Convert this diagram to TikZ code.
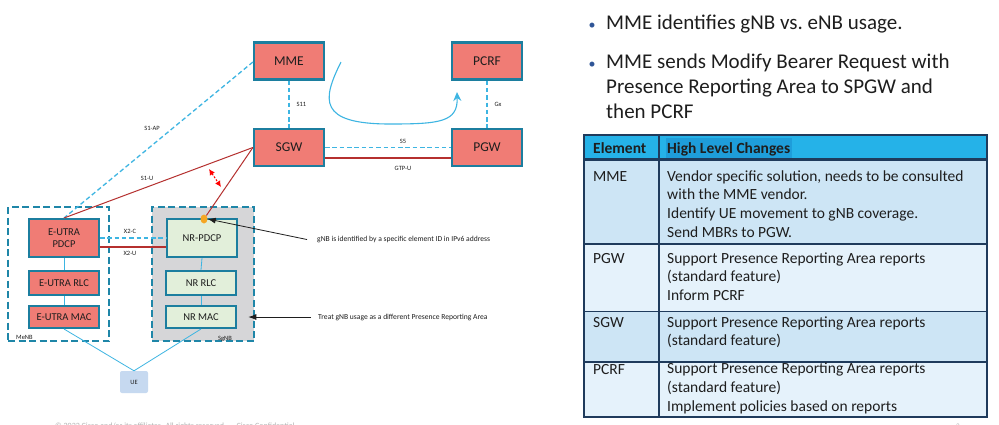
\documentclass[tikz,border=0pt]{standalone}
\usepackage{fontspec}
\setmainfont{Carlito}
\usetikzlibrary{arrows.meta,calc,shapes.geometric}
\definecolor{salmon}{HTML}{F07C75}
\definecolor{tealb}{HTML}{1C7E9F}
\definecolor{dteal}{HTML}{1F86A8}
\definecolor{lblue}{HTML}{3DB5E2}
\definecolor{ured}{HTML}{B5302F}
\definecolor{sgray}{HTML}{D6D6D8}
\definecolor{lgreen}{HTML}{E2EFDA}
\definecolor{uefill}{HTML}{C6D9F0}
\definecolor{dorange}{HTML}{F5A623}
\definecolor{navy}{HTML}{1F3B5C}
\definecolor{hdr}{HTML}{25B2E8}
\definecolor{hdrhl}{HTML}{1E9DDA}
\definecolor{rowa}{HTML}{CDE5F5}
\definecolor{rowb}{HTML}{E5F2FB}
\definecolor{bulc}{HTML}{2F5597}
\definecolor{txt}{HTML}{1E1E1E}
\begin{document}
\begin{tikzpicture}[x=1pt,y=-1pt,
  netbox/.style={draw=tealb, line width=2.2pt, fill=salmon, minimum width=70pt, minimum height=37pt, inner sep=0pt, text=txt, font=\fontsize{13.5}{14}\selectfont},
  grpbox/.style={draw=dteal, line width=2.6pt, dash pattern=on 7pt off 3.5pt, inner sep=0pt},
  layerbox/.style={draw=tealb, line width=2pt, minimum width=70pt, inner sep=0pt, text=txt, align=center, font=\fontsize{10.5}{12}\selectfont},
  ctrl/.style={draw=lblue, line width=1.3pt, dash pattern=on 4.5pt off 2.8pt},
  uplane/.style={draw=ured, line width=1.1pt},
  thinlink/.style={draw=lblue, line width=0.8pt},
  lbl/.style={font=\fontsize{6.5}{7}\selectfont, inner sep=0pt, text=txt},
  note/.style={font=\fontsize{7.6}{9}\selectfont, inner sep=0pt, text=txt, anchor=base west},
  notearrow/.style={draw=txt, line width=0.8pt, -{Latex[length=8pt,width=6pt]}},
  bul/.style={font=\fontsize{21}{25}\selectfont, inner sep=0pt, text=txt, anchor=base west, align=left},
  bdot/.style={font=\fontsize{14}{14}\selectfont, inner sep=0pt, text=bulc, anchor=base},
  tcell/.style={font=\fontsize{15.5}{18.7}\selectfont, inner sep=0pt, text=txt, anchor=base west, align=left},
  thead/.style={font=\fontsize{15.5}{18.7}\selectfont\bfseries, inner sep=0pt, text=txt, anchor=base west}
]
\useasboundingbox (0,0) rectangle (999,424);
\fill[white] (0,0) rectangle (999,424);

% group boxes
\node[grpbox, fill=white, minimum width=101pt, minimum height=134pt] (menb) at (58.5,274) {};
\node[grpbox, fill=sgray, minimum width=102pt, minimum height=134pt] (sgnb) at (203,274) {};
\node[lbl, anchor=base west] (menbl) at (16,339) {MeNB};
\node[lbl, anchor=base west] (sgnbl) at (218,340) {SgNB};

% core nodes
\node[netbox] (mme) at (289,61) {MME};
\node[netbox] (pcrf) at (487,61) {PCRF};
\node[netbox] (sgw) at (289,147.5) {SGW};
\node[netbox] (pgw) at (487,147.5) {PGW};

% RAN nodes
\node[layerbox, fill=salmon, minimum height=38pt] (epdcp) at (64,238) {E-UTRA\\PDCP};
\node[layerbox, fill=salmon, minimum height=24pt] (erlc) at (64,283) {E-UTRA RLC};
\node[layerbox, fill=salmon, minimum height=22pt] (emac) at (64,317) {E-UTRA MAC};
\node[layerbox, fill=lgreen, minimum height=38pt] (npdcp) at (202,238) {NR-PDCP};
\node[layerbox, fill=lgreen, minimum height=24pt] (nrlc) at (201,283) {NR RLC};
\node[layerbox, fill=lgreen, minimum height=22pt] (nmac) at (201,317) {NR MAC};
\node[fill=uefill, rounded corners=2pt, minimum width=28pt, minimum height=22pt, inner sep=0pt, lbl] (ue) at (134,382) {UE};

% stack links
\draw[thinlink] (epdcp.south) -- (erlc.north);
\draw[thinlink] (erlc.south) -- (emac.north);
\draw[thinlink] (npdcp.south) -- (nrlc.north);
\draw[thinlink] (nrlc.south) -- (nmac.north);
\draw[thinlink] (emac.south) -- (ue.north);
\draw[thinlink] (nmac.south) -- (ue.north);

% interfaces
\draw[ctrl] (mme.south) -- (sgw.north) node[lbl, midway, anchor=west, xshift=7pt] {S11};
\draw[ctrl] (pcrf.south) -- (pgw.north) node[lbl, midway, anchor=west, xshift=7pt] {Gx};
\draw[ctrl] (sgw.east) -- (pgw.west);
\node[lbl] (s5l) at (403,141) {S5};
\draw[uplane] ($(sgw.east)+(0,10.5)$) -- ($(pgw.west)+(0,10.5)$);
\node[lbl] (gtpl) at (403,168) {GTP-U};
\draw[ctrl] ($(mme.west)+(0,1)$) -- (epdcp.north);
\node[lbl] (s1apl) at (152,128) {S1-AP};
\draw[uplane, line width=1pt] (sgw.west) -- (epdcp.north);
\node[lbl] (s1ul) at (147,178) {S1-U};
\draw[ctrl] (epdcp.east) -- (npdcp.west);
\node[lbl] (x2cl) at (130,231) {X2-C};
\draw[uplane, line width=1.4pt] ($(epdcp.east)+(0,9)$) -- ($(npdcp.west)+(0,9)$);
\node[lbl] (x2ul) at (130,253) {X2-U};

% gNB dot
\node[ellipse, fill=dorange, minimum width=7pt, minimum height=9pt, inner sep=0pt] (dot) at (204,219) {};
\draw[uplane, line width=1pt] (sgw.west) -- (dot);

% red double arrow
\coordinate (ra1) at (209,169);
\coordinate (ra2) at (221,187);
\draw[draw=red, line width=1pt, dash pattern=on 2pt off 1.5pt, {Latex[length=6pt,width=6pt]}-{Latex[length=6pt,width=6pt]}] (ra1) -- (ra2);

% curved flow arrow
\coordinate (cs) at (341,62);
\coordinate (ce) at (457,92);
\draw[draw=lblue, line width=1.1pt, -{Stealth[length=9pt,width=8pt]}] (cs) .. controls (322,100) and (318,124) .. (390,124) .. controls (440,124) and (458,122) .. (ce);

% annotations
\node[note] (n1) at (317,241.5) {gNB is identified by a specific element ID in IPv6 address};
\draw[notearrow] ([xshift=-10pt]n1.west) -- (dot.east);
\node[note] (n2) at (318,319) {Treat gNB usage as a different Presence Reporting Area};
\draw[notearrow] ([xshift=-7pt]n2.west) -- ($(sgnb.east |- n2.west)+(-7,0)$);

% bullets (multi-line nodes: base = last line)
\node[bdot] (d1) at (592,29) {•};
\node[bul] (b1) at (606,29) {MME identifies gNB vs.\ eNB usage.};
\node[bdot] (d2) at (592,68) {•};
\node[bul] (b2) at (606,118) {MME sends Modify Bearer Request with\\Presence Reporting Area to SPGW and\\then PCRF};

% table
\fill[hdr] (584,135) rectangle (987,159);
\fill[hdrhl] (666,138) rectangle (792,158);
\fill[rowa] (584,159) rectangle (987,244);
\fill[rowb] (584,244) rectangle (987,311.5);
\fill[rowa] (584,311.5) rectangle (987,362);
\fill[rowb] (584,362) rectangle (987,417);
\draw[navy, line width=1.5pt] (584,135) rectangle (987,417);
\draw[navy, line width=2.6pt] (584,159.5) -- (987,159.5);
\draw[navy, line width=1.5pt] (584,244) -- (987,244);
\draw[navy, line width=1.5pt] (584,311.5) -- (987,311.5);
\draw[navy, line width=1.5pt] (584,362) -- (987,362);
\draw[navy, line width=1.5pt] (659,135) -- (659,417);

\node[thead] (h1) at (593,153.5) {Element};
\node[thead] (h2) at (667,153.5) {High Level Changes};
\node[tcell] (c1) at (593,181) {MME};
\node[tcell] (c2) at (667,237.1) {Vendor specific solution, needs to be consulted\\with the MME vendor.\\Identify UE movement to gNB coverage.\\Send MBRs to PGW.};
\node[tcell] (c3) at (593,263) {PGW};
\node[tcell] (c4) at (667,300.4) {Support Presence Reporting Area reports\\(standard feature)\\Inform PCRF};
\node[tcell] (c5) at (593,327) {SGW};
\node[tcell] (c6) at (667,345.7) {Support Presence Reporting Area reports\\(standard feature)};
\node[tcell] (c7) at (593,374) {PCRF};
\node[tcell] (c8) at (667,411) {Support Presence Reporting Area reports\\(standard feature)\\Implement policies based on reports};

% footer (cut off at the lower edge)
\node[font=\fontsize{8}{9}\selectfont, text=black!30, inner sep=0pt, anchor=base west] (foot) at (55,428.5) {© 2022 Cisco and/or its affiliates. All rights reserved. \quad Cisco Confidential};
\node[font=\fontsize{7}{8}\selectfont, text=black!30, inner sep=0pt, anchor=base] (pg) at (958,428.5) {3};
\end{tikzpicture}
\end{document}
